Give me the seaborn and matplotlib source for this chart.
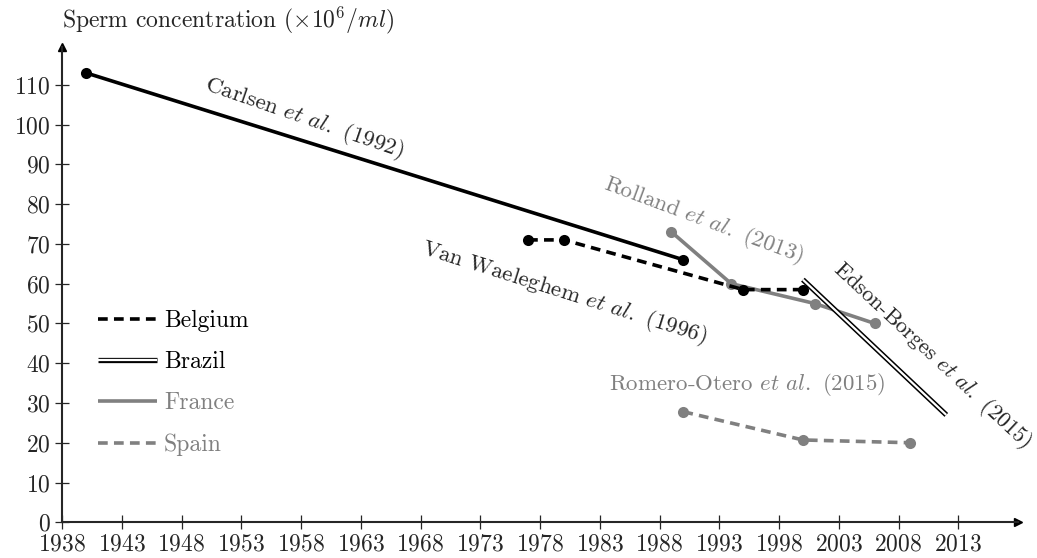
import matplotlib.pyplot as plt
import seaborn as sns
from matplotlib.lines import Line2D

# Values
carlsen_years = [1940, 1990]
carlsen_conc = [113, 66]

belgium_years = [1977, 1980, 1995, 2000]
belgium_conc = [71, 71, 58.5, 58.5]

brazil_years = [2000, 2012]
brazil_conc = [61, 27]

france_years = [1989, 1994, 2001, 2006]
france_conc = [73, 60, 55, 50]

spain_years = [1990, 2000, 2009]
spain_conc = [27.8, 20.7, 20]

year_ticks = list(range(1938, 2014, 5))
conc_ticks = list(range(0, 111, 10))

countries = ['Belgium', 'Brazil', 'France', 'Spain']

# Style
sns.set_style('ticks')
plt.rcParams['font.family'] = ['cmr10', 'DejaVu Serif']
plt.rcParams['mathtext.fontset'] = 'cm'
plt.rcParams['axes.formatter.use_mathtext'] = True
plt.rcParams['lines.scale_dashes'] = False

GRAY = '#808080'
LW = 2.6
DASH = (0, (7, 4.5))
FS = 17
FS_ANN = 16.5

fig = plt.figure(figsize=(10.37, 5.58), dpi=100)
ax = fig.add_axes([62 / 1037, 1 - 522.3 / 558, 956 / 1037, 475.3 / 558])

# Series
sns.lineplot(x=carlsen_years, y=carlsen_conc, ax=ax, color='black', lw=LW,
             marker='o', ms=8, mec='black', mew=0, solid_capstyle='butt')
sns.lineplot(x=france_years, y=france_conc, ax=ax, color=GRAY, lw=LW,
             marker='o', ms=8, mec=GRAY, mew=0)
sns.lineplot(x=spain_years, y=spain_conc, ax=ax, color=GRAY, lw=LW, linestyle=DASH,
             marker='o', ms=8, mec=GRAY, mew=0)
sns.lineplot(x=belgium_years, y=belgium_conc, ax=ax, color='black', lw=LW, linestyle=DASH,
             marker='o', ms=8, mec='black', mew=0)
sns.lineplot(x=brazil_years, y=brazil_conc, ax=ax, color='black', lw=3.8,
             solid_capstyle='butt')
sns.lineplot(x=brazil_years, y=brazil_conc, ax=ax, color='white', lw=1.6,
             solid_capstyle='butt')

# Study annotations
ann = dict(fontsize=FS_ANN, ha='center', va='center', rotation_mode='anchor')
ax.text(1958.3, 101.6, r'Carlsen $\mathit{et\ al.}$ (1992)', rotation=-19, **ann)
ax.text(1980.0, 57.6, r'Van Waeleghem $\mathit{et\ al.}$ (1996)', rotation=-17.5, **ann)
ax.text(1991.7, 75.8, r'Rolland $\mathit{et\ al.}$ (2013)', rotation=-20.5, color=GRAY, **ann)
ax.text(1995.3, 34.7, r'Romero-Otero $\mathit{et\ al.}$ (2015)', color=GRAY, **ann)
ax.text(2010.8, 41.9, r'Edson-Borges $\mathit{et\ al.}$ (2015)', rotation=-43,
        **{**ann, 'fontsize': 16})

# Axes
ax.set_xlim(1938, 2018)
ax.set_ylim(0, 119.5)
ax.set_xticks(year_ticks)
ax.set_yticks(conc_ticks)
ax.set_xlabel('')
ax.set_ylabel('')
ax.tick_params(direction='inout', length=10.5, width=0.9, labelsize=FS, pad=3)
sns.despine(ax=ax)
for s in ['left', 'bottom']:
    ax.spines[s].set_linewidth(1.5)
ax.plot(1, 0, '>k', ms=6, transform=ax.transAxes, clip_on=False)
ax.plot(0, 1, '^k', ms=6, transform=ax.transAxes, clip_on=False)

fig.text(62 / 1037, 1 - 20 / 558, r'Sperm concentration $(\times10^6/ml)$',
         fontsize=FS, ha='left', va='center')

# Legend
handles = [
    Line2D([], [], color='black', lw=LW, linestyle=DASH),
    (Line2D([], [], color='black', lw=3.8, solid_capstyle='butt'),
     Line2D([], [], color='white', lw=1.6, solid_capstyle='butt')),
    Line2D([], [], color=GRAY, lw=LW, solid_capstyle='butt'),
    Line2D([], [], color=GRAY, lw=LW, linestyle=DASH),
]
leg = ax.legend(handles, countries, loc='center left',
                bbox_to_anchor=(98 / 1037, 1 - 383 / 558), bbox_transform=fig.transFigure,
                frameon=False, fontsize=FS, handlelength=2.5, handletextpad=0.3,
                labelspacing=0.8, borderpad=0, borderaxespad=0)
for t, c in zip(leg.get_texts(), ['black', 'black', GRAY, GRAY]):
    t.set_color(c)

fig.savefig('out.png', dpi=100)
